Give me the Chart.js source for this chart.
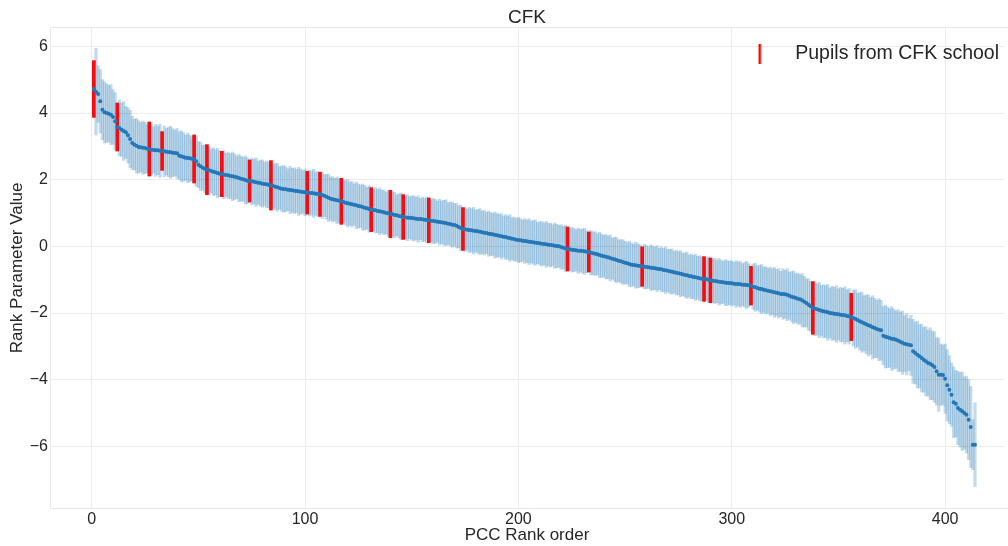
<!DOCTYPE html>
<html>
<head>
<meta charset="utf-8">
<script src="https://cdn.jsdelivr.net/npm/chart.js@4.4.1/dist/chart.umd.min.js"></script>
<style>
html, body { margin: 0; padding: 0; background: #fff; }
#wrap { width: 1008px; height: 546px; }
</style>
</head>
<body>
<div id="wrap"><canvas id="pcc"></canvas></div>
<script>
// rank parameter per pupil, sorted (rank order 1..414)
var rankValue = [
 4.72, 4.64, 4.57, 4.35, 4.10, 4.02, 4.00, 3.98, 3.95, 3.88,
 3.75, 3.58, 3.55, 3.50, 3.46, 3.42, 3.33, 3.22, 3.10, 3.05,
 3.02, 2.98, 2.97, 2.96, 2.95, 2.93, 2.92, 2.90, 2.89, 2.88,
 2.88, 2.87, 2.86, 2.85, 2.84, 2.83, 2.82, 2.81, 2.80, 2.79,
 2.72, 2.70, 2.68, 2.66, 2.65, 2.64, 2.63, 2.62, 2.55, 2.45,
 2.40, 2.36, 2.33, 2.30, 2.28, 2.26, 2.24, 2.22, 2.20, 2.18,
 2.17, 2.15, 2.14, 2.13, 2.11, 2.10, 2.09, 2.07, 2.05, 2.03,
 2.01, 1.99, 1.97, 1.96, 1.95, 1.94, 1.92, 1.91, 1.90, 1.88,
 1.87, 1.86, 1.84, 1.83, 1.81, 1.79, 1.77, 1.75, 1.73, 1.72,
 1.71, 1.70, 1.69, 1.68, 1.67, 1.66, 1.65, 1.64, 1.63, 1.62,
 1.61, 1.60, 1.60, 1.59, 1.58, 1.57, 1.56, 1.54, 1.52, 1.49,
 1.46, 1.43, 1.41, 1.40, 1.38, 1.37, 1.35, 1.33, 1.31, 1.29,
 1.28, 1.26, 1.25, 1.23, 1.21, 1.20, 1.18, 1.16, 1.14, 1.12,
 1.10, 1.09, 1.08, 1.06, 1.05, 1.04, 1.02, 1.00, 0.99, 0.97,
 0.96, 0.94, 0.93, 0.91, 0.90, 0.88, 0.87, 0.86, 0.86, 0.85,
 0.84, 0.83, 0.82, 0.82, 0.81, 0.80, 0.79, 0.78, 0.77, 0.76,
 0.75, 0.74, 0.73, 0.72, 0.71, 0.70, 0.68, 0.67, 0.65, 0.64,
 0.62, 0.58, 0.55, 0.52, 0.51, 0.50, 0.49, 0.48, 0.47, 0.46,
 0.45, 0.44, 0.42, 0.41, 0.40, 0.38, 0.37, 0.36, 0.34, 0.33,
 0.32, 0.30, 0.29, 0.28, 0.26, 0.25, 0.23, 0.22, 0.20, 0.19,
 0.18, 0.17, 0.16, 0.15, 0.14, 0.13, 0.12, 0.11, 0.10, 0.09,
 0.08, 0.07, 0.06, 0.05, 0.04, 0.03, 0.02, 0.01, 0.00, -0.02,
 -0.04, -0.06, -0.08, -0.09, -0.10, -0.11, -0.12, -0.13, -0.13, -0.14,
 -0.15, -0.16, -0.17, -0.19, -0.21, -0.22, -0.24, -0.26, -0.28, -0.30,
 -0.31, -0.33, -0.35, -0.37, -0.39, -0.41, -0.43, -0.45, -0.47, -0.49,
 -0.51, -0.53, -0.55, -0.56, -0.57, -0.58, -0.59, -0.60, -0.61, -0.62,
 -0.63, -0.64, -0.65, -0.66, -0.67, -0.68, -0.69, -0.71, -0.72, -0.73,
 -0.75, -0.76, -0.78, -0.79, -0.81, -0.82, -0.84, -0.86, -0.87, -0.89,
 -0.90, -0.92, -0.93, -0.94, -0.96, -0.97, -0.98, -0.99, -1.00, -1.02,
 -1.03, -1.04, -1.05, -1.06, -1.07, -1.08, -1.09, -1.10, -1.10, -1.11,
 -1.12, -1.13, -1.13, -1.14, -1.15, -1.15, -1.16, -1.17, -1.18, -1.21,
 -1.23, -1.25, -1.27, -1.28, -1.30, -1.32, -1.33, -1.35, -1.36, -1.38,
 -1.39, -1.41, -1.43, -1.43, -1.44, -1.45, -1.48, -1.51, -1.53, -1.55,
 -1.57, -1.59, -1.62, -1.66, -1.70, -1.75, -1.80, -1.85, -1.87, -1.89,
 -1.91, -1.93, -1.95, -1.96, -1.98, -2.00, -2.01, -2.02, -2.03, -2.04,
 -2.05, -2.06, -2.07, -2.09, -2.10, -2.12, -2.15, -2.18, -2.21, -2.25,
 -2.28, -2.31, -2.34, -2.37, -2.39, -2.43, -2.45, -2.48, -2.50, -2.52,
 -2.68, -2.71, -2.73, -2.75, -2.77, -2.78, -2.80, -2.83, -2.86, -2.89,
 -2.92, -2.94, -2.95, -2.97, -3.15, -3.20, -3.25, -3.30, -3.35, -3.40,
 -3.45, -3.50, -3.52, -3.57, -3.62, -3.75, -3.85, -3.85, -3.86, -3.97,
 -4.17, -4.30, -4.45, -4.68, -4.72, -4.85, -4.90, -4.95, -5.00, -5.05,
 -5.20, -5.42, -5.95, -5.95
];

// half length of each error bar
var rankErr = [
 0.85, 1.30, 0.85, 0.95, 0.90, 0.92, 0.88, 0.85, 0.90, 0.82,
 0.86, 0.72, 0.84, 0.80, 0.88, 0.78, 0.83, 0.86, 0.80, 0.76,
 0.82, 0.79, 0.74, 0.80, 0.77, 0.72, 0.81, 0.75, 0.70, 0.78,
 0.73, 0.80, 0.58, 0.76, 0.70, 0.74, 0.78, 0.72, 0.69, 0.75,
 0.71, 0.77, 0.73, 0.68, 0.74, 0.70, 0.66, 0.72, 0.75, 0.69,
 0.73, 0.67, 0.71, 0.75, 0.70, 0.66, 0.72, 0.68, 0.74, 0.69,
 0.68, 0.72, 0.65, 0.70, 0.67, 0.73, 0.69, 0.64, 0.71, 0.68,
 0.66, 0.72, 0.69, 0.63, 0.70, 0.67, 0.73, 0.65, 0.69, 0.71,
 0.66, 0.70, 0.68, 0.74, 0.65, 0.69, 0.72, 0.64, 0.68, 0.70,
 0.67, 0.63, 0.71, 0.66, 0.69, 0.65, 0.72, 0.68, 0.64, 0.70,
 0.64, 0.69, 0.66, 0.72, 0.65, 0.68, 0.66, 0.70, 0.63, 0.67,
 0.71, 0.65, 0.68, 0.64, 0.70, 0.66, 0.69, 0.63, 0.67, 0.71,
 0.65, 0.68, 0.62, 0.70, 0.66, 0.64, 0.69, 0.67, 0.63, 0.70,
 0.66, 0.62, 0.68, 0.65, 0.70, 0.64, 0.67, 0.63, 0.69, 0.71,
 0.65, 0.68, 0.62, 0.66, 0.70, 0.67, 0.64, 0.69, 0.63, 0.66,
 0.68, 0.64, 0.70, 0.62, 0.67, 0.65, 0.69, 0.67, 0.63, 0.68,
 0.66, 0.62, 0.69, 0.64, 0.67, 0.70, 0.63, 0.66, 0.68, 0.64,
 0.67, 0.63, 0.69, 0.64, 0.66, 0.62, 0.68, 0.65, 0.70, 0.63,
 0.66, 0.69, 0.64, 0.67, 0.62, 0.68, 0.65, 0.63, 0.69, 0.66,
 0.64, 0.68, 0.62, 0.67, 0.65, 0.70, 0.63, 0.66, 0.64, 0.68,
 0.65, 0.62, 0.67, 0.64, 0.69, 0.63, 0.66, 0.68, 0.62, 0.65,
 0.67, 0.63, 0.69, 0.64, 0.66, 0.62, 0.68, 0.65, 0.63, 0.67,
 0.64, 0.69, 0.66, 0.63, 0.67, 0.65, 0.62, 0.68, 0.64, 0.66,
 0.69, 0.63, 0.60, 0.67, 0.64, 0.66, 0.62, 0.68, 0.65, 0.63,
 0.67, 0.64, 0.69, 0.62, 0.66, 0.68, 0.63, 0.65, 0.67, 0.64,
 0.62, 0.68, 0.65, 0.63, 0.69, 0.66, 0.64, 0.60, 0.67, 0.65,
 0.63, 0.68, 0.66, 0.64, 0.69, 0.62, 0.67, 0.65, 0.70, 0.64,
 0.66, 0.68, 0.63, 0.67, 0.65, 0.69, 0.64, 0.66, 0.70, 0.63,
 0.67, 0.65, 0.69, 0.64, 0.68, 0.66, 0.67, 0.63, 0.69, 0.67,
 0.65, 0.68, 0.64, 0.70, 0.66, 0.63, 0.69, 0.67, 0.65, 0.68,
 0.64, 0.70, 0.66, 0.69, 0.63, 0.67, 0.71, 0.65, 0.58, 0.68,
 0.72, 0.66, 0.70, 0.74, 0.68, 0.71, 0.67, 0.73, 0.69, 0.75,
 0.70, 0.74, 0.68, 0.76, 0.72, 0.78, 0.71, 0.75, 0.79, 0.73,
 0.77, 0.74, 0.80, 0.76, 0.72, 0.78, 0.75, 0.79, 0.81, 0.77,
 0.83, 0.76, 0.80, 0.78, 0.84, 0.75, 0.81, 0.79, 0.85, 0.77,
 0.82, 0.80, 0.86, 0.78, 0.83, 0.71, 0.84, 0.88, 0.81, 0.86,
 0.90, 0.83, 0.88, 0.92, 0.85, 0.95, 0.89, 0.86, 0.93, 0.90,
 0.87, 0.94, 0.91, 0.88, 0.96, 0.90, 0.86, 0.93, 0.89, 0.95,
 0.84, 0.92, 0.78, 0.90, 0.96, 0.93, 1.00, 0.95, 1.02, 0.98,
 1.04, 0.99, 1.08, 1.03, 1.06, 1.01, 1.10, 0.92, 0.90, 1.04,
 1.07, 1.02, 0.95, 1.06, 1.00, 1.10, 1.12, 1.18, 1.08, 1.15,
 1.20, 1.22, 0.75, 1.26
];

// rank positions of the pupils from CFK school
var cfkRanks = [1, 12, 27, 33, 48, 54, 61, 74, 84, 101, 107, 117, 131, 140, 146,
  158, 174, 223, 233, 258, 287, 290, 309, 338, 356];

var xTicks = [0, 100, 200, 300, 400];
var yTicks = [-6, -4, -2, 0, 2, 4, 6];

var allBars = rankValue.map(function(v, i) {
  return {x: i + 1, y: [v - rankErr[i], v + rankErr[i]]};
});
var cfkBars = cfkRanks.map(function(r) {
  return {x: r, y: [rankValue[r - 1] - rankErr[r - 1], rankValue[r - 1] + rankErr[r - 1]]};
});
var points = rankValue.map(function(v, i) { return {x: i + 1, y: v}; });

// little red stroke for the legend
var mark = document.createElement('canvas');
mark.width = 52; mark.height = 20;
var mctx = mark.getContext('2d');
mctx.fillStyle = '#ff0000';
mctx.fillRect(25, 0, 2.5, 20);

var txt = '#262626';
var fam = "'Liberation Sans', Arial, sans-serif";

var frame = {
  id: 'frame',
  afterLayout: function(chart) {
    // legend sits inside the plot, top right
    var lg = chart.legend, a = chart.chartArea;
    var w = lg.width;
    lg.left = a.right - w + 5;
    lg.right = a.right + 5;
    lg.top = a.top;
    lg.bottom = a.bottom;
  },
  beforeDatasetsDraw: function(chart) {
    // axes frame: the right side runs off the picture
    var a = chart.chartArea, c = chart.ctx;
    c.save();
    c.strokeStyle = '#e8e8e8';
    c.lineWidth = 1;
    c.beginPath();
    c.moveTo(1008, a.top + 0.5);
    c.lineTo(a.left + 0.5, a.top + 0.5);
    c.lineTo(a.left + 0.5, a.bottom - 0.5);
    c.lineTo(1008, a.bottom - 0.5);
    c.stroke();
    c.restore();
  }
};

var config = {
  type: 'bar',
  data: {
    datasets: [{
      label: 'all pupils',
      data: allBars,
      backgroundColor: 'rgba(31,119,180,0.27)',
      barThickness: 2.6,
      grouped: false,
      order: 3
    }, {
      label: 'Pupils from CFK school',
      data: cfkBars,
      backgroundColor: 'rgba(255,0,0,0.95)',
      barThickness: 3,
      grouped: false,
      order: 2
    }, {
      type: 'line',
      label: 'rank',
      data: points,
      showLine: false,
      pointRadius: 2,
      pointBorderWidth: 0,
      pointBackgroundColor: '#2677b8',
      order: 1
    }]
  },
  options: {
    responsive: true,
    maintainAspectRatio: false,
    animation: false,
    layout: { padding: 0 },
    plugins: {
      tooltip: { enabled: false },
      title: {
        display: true,
        text: 'CFK',
        color: txt,
        fullSize: false,
        font: { family: fam, size: 19, weight: 'normal', lineHeight: 1 },
        padding: { top: 8, bottom: 0 }
      },
      legend: {
        position: 'chartArea',
        align: 'start',
        title: { display: true, text: '', font: { size: 1, lineHeight: 1 }, padding: { top: 0, bottom: 6 } },
        labels: {
          filter: function(item) { return item.text === 'Pupils from CFK school'; },
          usePointStyle: true,
          pointStyle: mark,
          pointStyleWidth: 52,
          color: txt,
          padding: 10,
          font: { family: fam, size: 19.5 }
        }
      }
    },
    scales: {
      x: {
        type: 'linear',
        min: -19.55,
        max: 427.6,
        offset: false,
        afterBuildTicks: function(s) { s.ticks = xTicks.map(function(v) { return {value: v}; }); },
        afterFit: function(s) { s.height = 37; },
        grid: { color: '#ebebeb', drawTicks: false, offset: false },
        border: { display: false },
        ticks: { color: txt, padding: 1, font: { family: fam, size: 16 } },
        title: { display: true, text: 'PCC Rank order', color: txt, padding: 0, font: { family: fam, size: 17 } }
      },
      y: {
        min: -7.88,
        max: 6.58,
        afterBuildTicks: function(s) { s.ticks = yTicks.map(function(v) { return {value: v}; }); },
        afterFit: function(s) { s.width = 50; },
        grid: { color: '#ebebeb', drawTicks: false },
        border: { display: false },
        ticks: {
          color: txt,
          padding: 2,
          font: { family: fam, size: 16 },
          callback: function(v) { return String(v).replace('-', '\u2212'); }
        },
        title: { display: true, text: 'Rank Parameter Value', color: txt, padding: { top: 7, bottom: 0 }, font: { family: fam, size: 17 } }
      }
    }
  },
  plugins: [frame]
};

var ctx = document.getElementById('pcc').getContext('2d');
window.pccChart = new Chart(ctx, config);
</script>
</body>
</html>
